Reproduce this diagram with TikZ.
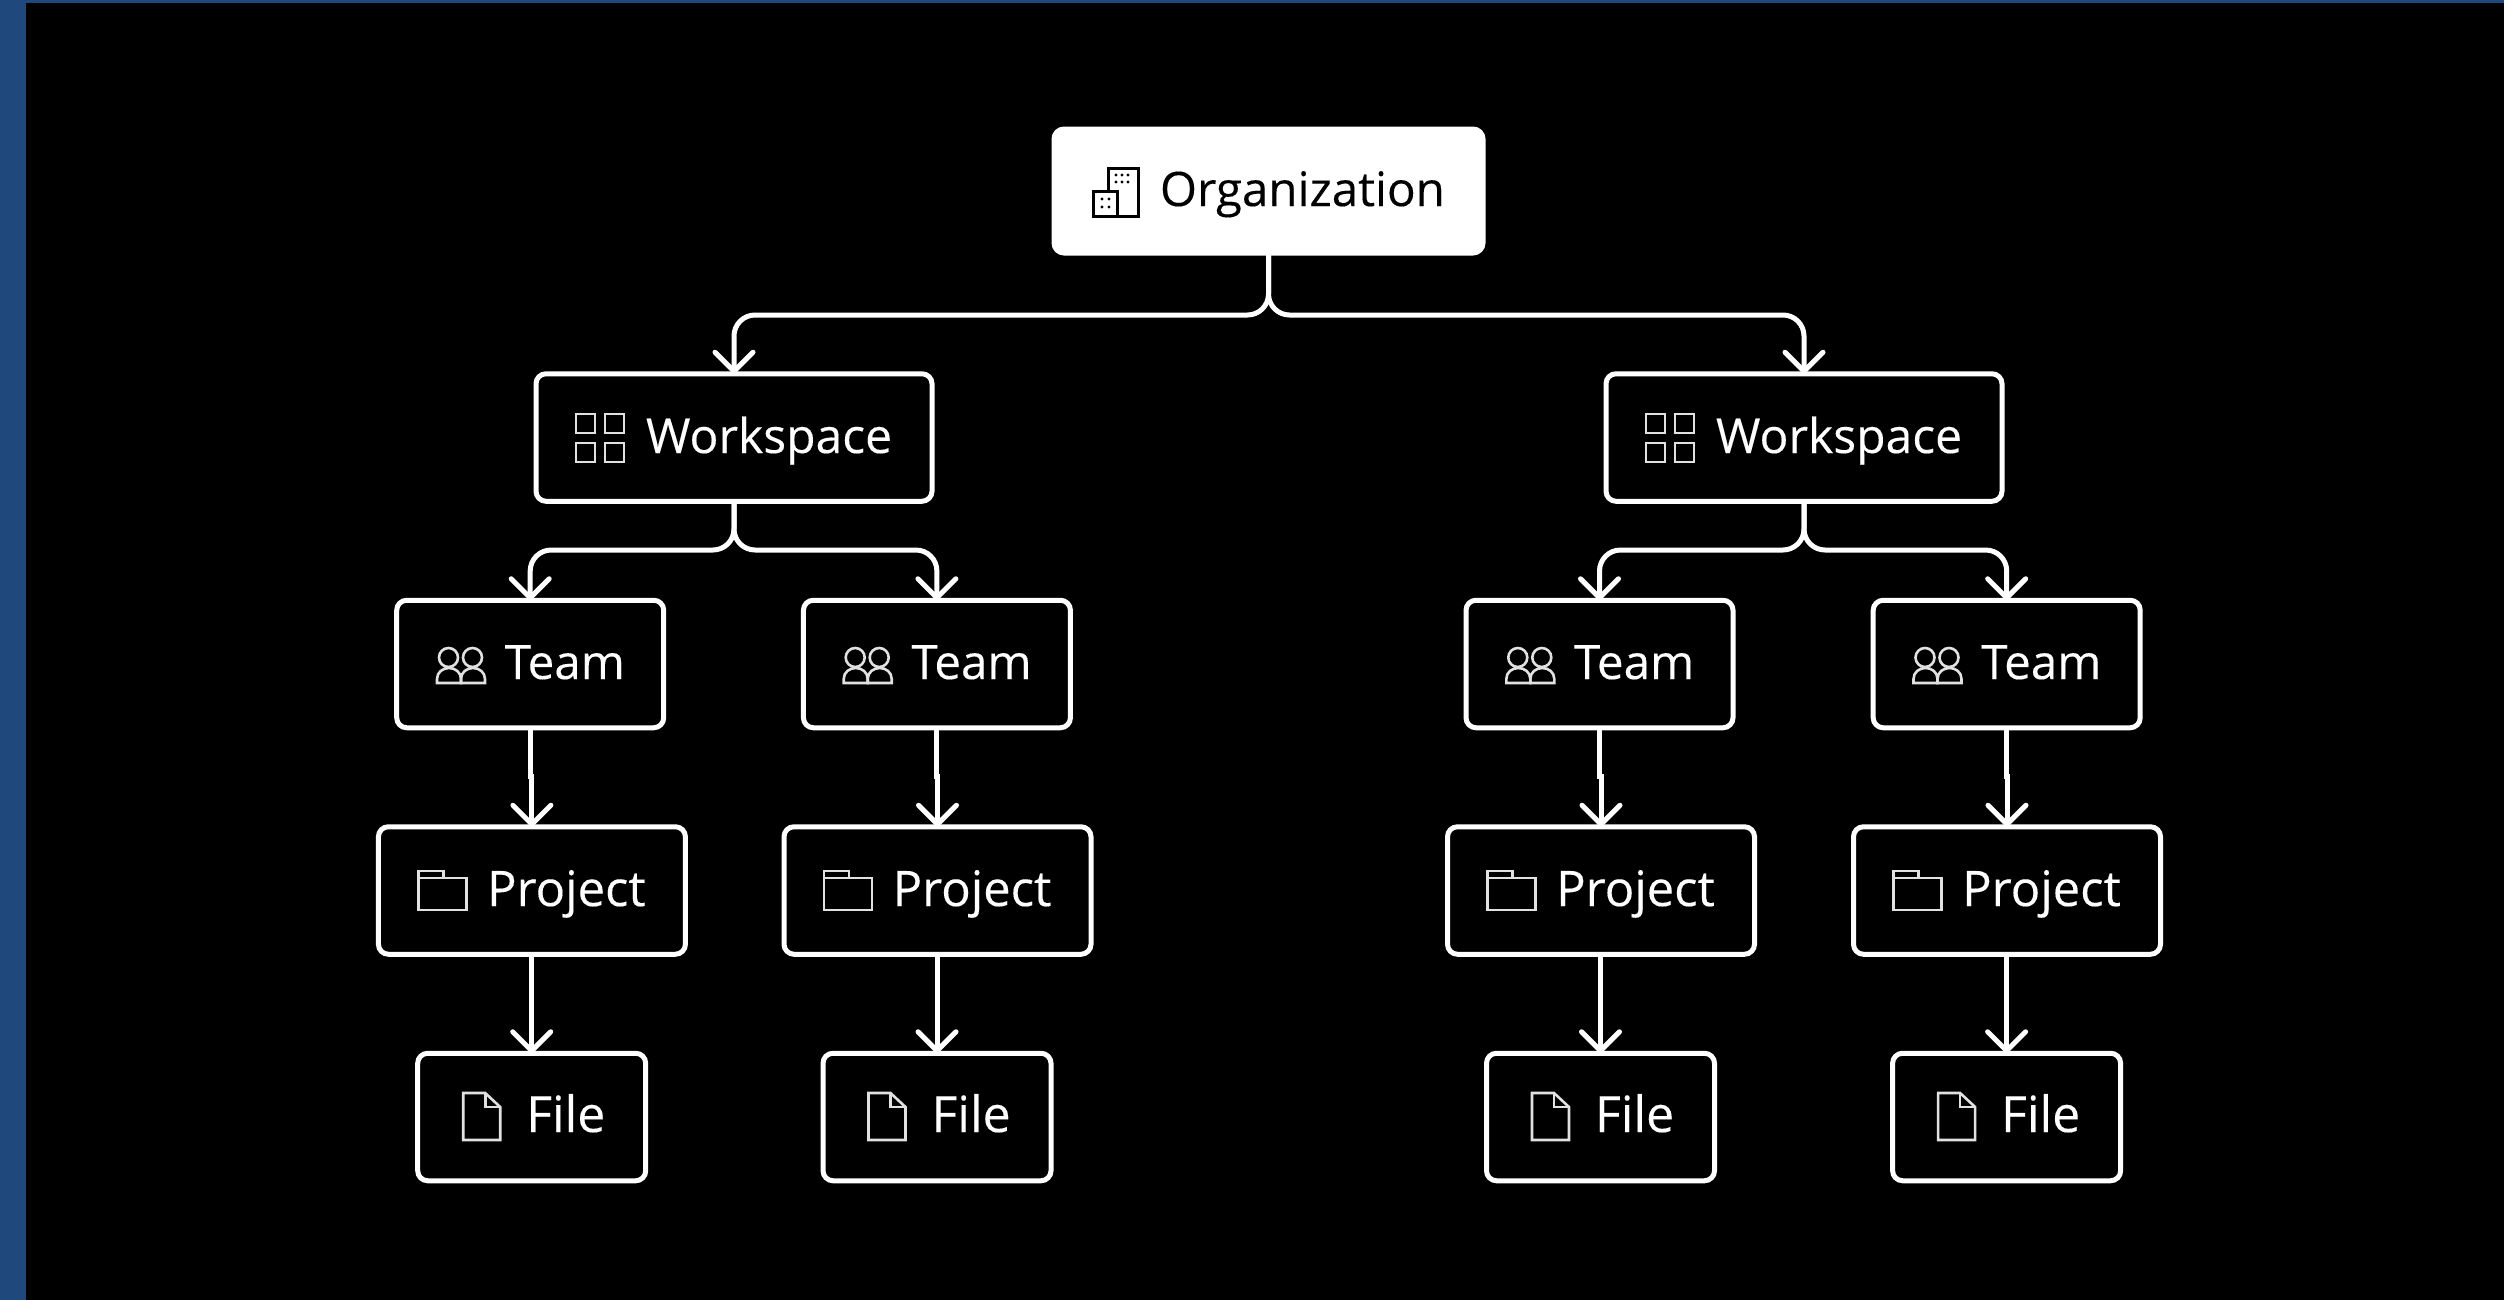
\documentclass[tikz,border=0pt]{standalone}
\usepackage{fontspec}
\setmainfont{Open Sans}
\newfontfamily\labelfont[FakeBold=0.25]{Open Sans}
\usetikzlibrary{arrows.meta}
\definecolor{frameblue}{RGB}{31,73,125}
\definecolor{icongray}{RGB}{225,225,225}
\tikzset{
  box/.style={draw=white,line width=5pt,rounded corners=10pt,fill=black,text=white,inner sep=0pt,outer sep=0pt,minimum height=127.5pt},
  orgbox/.style={box,fill=white,minimum height=124pt},
  label/.style={anchor=base west,inner sep=0pt,outer sep=0pt,text=white,font=\labelfont\fontsize{#1}{52}\selectfont},
  conn/.style={draw=white,line width=5pt,rounded corners=21pt,-{Straight Barb[length=19pt,width=38pt,line width=5pt,round]}},
  straightconn/.style={conn,rounded corners=0pt},
  icon/.style={draw=icongray,line width=2.6pt},
}
\newcommand{\wsbox}[2]{%
  \begin{scope}[shift={(#2,0)}]
    \node[box,minimum width=396pt] (#1) at (198,437.5) {};
    \node[label=48] (#1t) at (110,453) {Workspace};
    \foreach \a in {40,69} \foreach \b in {414,443}
      \draw[icon] (\a,\b) rectangle ++(19,19);
  \end{scope}}
\newcommand{\teambox}[2]{%
  \begin{scope}[shift={(#2,0)}]
    \node[box,minimum width=267pt] (#1) at (133.5,664) {};
    \node[label=47.5] (#1t) at (108,679) {Team};
    \foreach \a in {0,24}{
      \draw[icon] (51.8+\a,657.5) circle[radius=9.5];
      \draw[icon] (40.3+\a,683) -- (40.3+\a,679) .. controls (40.3+\a,672) and (46.3+\a,668) .. (52.3+\a,668) .. controls (58.3+\a,668) and (64.3+\a,672) .. (64.3+\a,679) -- (64.3+\a,683) -- cycle;
    }
  \end{scope}}
\newcommand{\projbox}[2]{%
  \begin{scope}[shift={(#2,0)}]
    \node[box,minimum width=307pt] (#1) at (153.5,890.5) {};
    \node[label=49] (#1t) at (108.7,906) {Project};
    \draw[icon] (40,878) rectangle (88,910);
    \draw[icon] (40,878) -- (40,871) -- (65,871) -- (65,878);
  \end{scope}}
\newcommand{\filebox}[2]{%
  \begin{scope}[shift={(#2,0)}]
    \node[box,minimum width=228pt] (#1) at (114,1117) {};
    \node[label=50] (#1t) at (108.5,1132) {File};
    \draw[icon] (45.5,1093) -- (67.5,1093) -- (82.5,1107) -- (82.5,1140) -- (45.5,1140) -- cycle;
    \draw[icon] (67.5,1093) -- (67.5,1107) -- (82.5,1107);
  \end{scope}}
\begin{document}
\begin{tikzpicture}[x=1pt,y=-1pt]
\useasboundingbox (0,0) rectangle (2504,1299);
\fill[black] (0,0) rectangle (2506,1301);
\fill[frameblue] (0,0) rectangle (26,1301);
\fill[frameblue] (0,0) rectangle (2506,3);
% organization
\node[orgbox,minimum width=429pt] (org) at (1268.5,191) {};
\node[label=47.5,text=black] (orgt) at (1160,206) {Organization};
\draw[icon,draw=black,line width=3pt] (1108,168) rectangle (1138,216);
\draw[icon,draw=black,fill=white,line width=3pt] (1093,191) rectangle (1117,216);
\foreach \a in {1116,1122,1128} \foreach \b in {175,182}
  \fill[black] (\a,\b) circle[radius=1.6];
\foreach \a in {1102,1109} \foreach \b in {199,207}
  \fill[black] (\a,\b) circle[radius=1.6];
% boxes
\wsbox{wsa}{536}
\wsbox{wsb}{1606}
\teambox{ta}{396.7}\teambox{tb}{803.4}\teambox{tc}{1466}\teambox{td}{1873.2}
\projbox{pa}{378.4}\projbox{pb}{784}\projbox{pc}{1447.5}\projbox{pd}{1853.5}
\filebox{fa}{417.7}\filebox{fb}{823}\filebox{fc}{1486.5}\filebox{fd}{1892.6}
% connectors
\draw[conn] (org.south) -- (org.south |- 0,315) -- (wsa.north |- 0,315) -- (wsa.north);
\draw[conn] (org.south) -- (org.south |- 0,315) -- (wsb.north |- 0,315) -- (wsb.north);
\draw[conn] (wsa.south) -- (wsa.south |- 0,550) -- (ta.north |- 0,550) -- (ta.north);
\draw[conn] (wsa.south) -- (wsa.south |- 0,550) -- (tb.north |- 0,550) -- (tb.north);
\draw[conn] (wsb.south) -- (wsb.south |- 0,550) -- (tc.north |- 0,550) -- (tc.north);
\draw[conn] (wsb.south) -- (wsb.south |- 0,550) -- (td.north |- 0,550) -- (td.north);
\foreach \t/\p/\f in {ta/pa/fa,tb/pb/fb,tc/pc/fc,td/pd/fd}{
  \draw[straightconn] (\t.south) -- (\t.south |- 0,776) -- (\p.north |- 0,776) -- (\p.north);
  \draw[straightconn] (\p.south) -- (\f.north |- \p.south) -- (\f.north);
}
\end{tikzpicture}
\end{document}
